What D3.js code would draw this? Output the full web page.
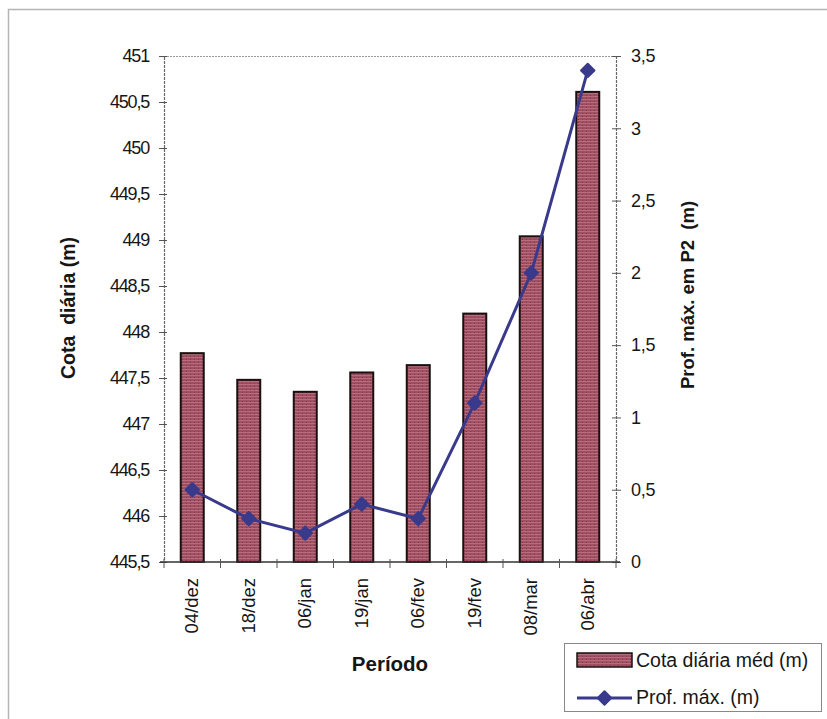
<!DOCTYPE html>
<html>
<head>
<meta charset="utf-8">
<script src="https://cdn.jsdelivr.net/npm/d3@7"></script>
<style>
  html, body { margin: 0; padding: 0; background: #fff; }
  svg { display: block; font-family: "Liberation Sans", Arial, sans-serif; }
</style>
</head>
<body>
<svg id="chart" width="827" height="719"></svg>
<script>
// Período de observação
const periods = ["04/dez", "18/dez", "06/jan", "19/jan", "06/fev", "19/fev", "08/mar", "06/abr"];
// Cota diária média (m)
const cotaDiaria = [447.77, 447.48, 447.35, 447.56, 447.64, 448.20, 449.04, 450.61];
// Profundidade máxima em P2 (m)
const profMax = [0.5, 0.3, 0.2, 0.4, 0.3, 1.1, 2.0, 3.4];
// Marcas dos eixos
const leftTicks = [445.5, 446, 446.5, 447, 447.5, 448, 448.5, 449, 449.5, 450, 450.5, 451];
const rightTicks = [0, 0.5, 1, 1.5, 2, 2.5, 3, 3.5];
const seriesNames = ["Cota diária méd (m)", "Prof. máx. (m)"];

const svg = d3.select("#chart");
const plot = { left: 164, right: 616, top: 56, bottom: 562 };

const fmt = v => String(v).replace(".", ",");
const barColor = "#9f5062";
const lineColor = "#3a3a8c";
const textColor = "#161616";

// Textura das barras
const defs = svg.append("defs");
const pat = defs.append("pattern")
  .attr("id", "barTex").attr("patternUnits", "userSpaceOnUse")
  .attr("width", 4).attr("height", 3);
pat.append("rect").attr("width", 4).attr("height", 3).attr("fill", barColor);
pat.append("rect").attr("y", 0).attr("width", 4).attr("height", 1).attr("fill", "#b86c7e");
pat.append("rect").attr("x", 2).attr("y", 2).attr("width", 1).attr("height", 1).attr("fill", "#853848");

// Moldura externa
svg.append("path")
  .attr("d", "M8.5,719 V9.5 H827")
  .attr("fill", "none").attr("stroke", "#b5b5b5").attr("stroke-width", 1.5);

const xCenter = d3.scalePoint().domain(periods).range([plot.left, plot.right]).padding(0.5);
const yL = d3.scaleLinear().domain([445.5, 451]).range([plot.bottom, plot.top]);
const yR = d3.scaleLinear().domain([0, 3.5]).range([plot.bottom, plot.top]);

// Borda superior da área de plotagem
svg.append("line")
  .attr("x1", plot.left).attr("x2", plot.right)
  .attr("y1", plot.top + 0.5).attr("y2", plot.top + 0.5)
  .attr("stroke", "#9a9a9a").attr("stroke-width", 1.2).attr("stroke-dasharray", "2,1");

// Barras
const bw = 23;
svg.append("g").selectAll("rect").data(cotaDiaria).join("rect")
  .attr("x", (d, i) => xCenter(periods[i]) - bw / 2)
  .attr("y", d => yL(d))
  .attr("width", bw)
  .attr("height", d => yL(445.5) - yL(d))
  .attr("fill", "url(#barTex)")
  .attr("stroke", "#1a1010").attr("stroke-width", 2);

// Eixo esquerdo
const axL = svg.append("g").attr("transform", `translate(${plot.left},0)`)
  .call(d3.axisLeft(yL).tickValues(leftTicks).tickFormat(fmt).tickSize(5).tickPadding(10));
axL.selectAll(".tick line").attr("x2", -5).attr("x1", 3).attr("stroke", "#555");
axL.select(".domain").attr("stroke", "#666").attr("stroke-width", 1.2).attr("stroke-dasharray", "3,1");
axL.selectAll("text").attr("font-size", 18).attr("fill", textColor).attr("letter-spacing", -1.2);

// Eixo direito
const axR = svg.append("g").attr("transform", `translate(${plot.right},0)`)
  .call(d3.axisRight(yR).tickValues(rightTicks).tickFormat(fmt).tickSize(5).tickPadding(10));
axR.selectAll(".tick line").attr("x1", -4).attr("x2", 5).attr("stroke", "#555");
axR.select(".domain").attr("stroke", "#666").attr("stroke-width", 1.2).attr("stroke-dasharray", "3,1");
axR.selectAll("text").attr("font-size", 18).attr("fill", textColor).attr("letter-spacing", -0.3);

// Eixo das categorias
const axB = svg.append("g").attr("transform", `translate(0,${plot.bottom})`);
axB.append("line").attr("x1", plot.left - 4).attr("x2", plot.right + 4)
  .attr("stroke", "#333").attr("stroke-width", 1.5);
const boundaries = d3.range(periods.length + 1).map(i => plot.left + i * (plot.right - plot.left) / periods.length);
axB.selectAll("line.tk").data(boundaries).join("line").attr("class", "tk")
  .attr("x1", d => d).attr("x2", d => d).attr("y1", -3).attr("y2", 6)
  .attr("stroke", "#555");
axB.selectAll("text").data(periods).join("text")
  .attr("transform", d => `translate(${xCenter(d) + 6},16) rotate(-90)`)
  .attr("text-anchor", "end")
  .attr("font-size", 18.5).attr("fill", textColor)
  .text(d => d);

// Marcador losango (quadrado girado 45°)
const squareDiamond = {
  draw(ctx, size) {
    const r = Math.sqrt(size / 2);
    ctx.moveTo(0, -r); ctx.lineTo(r, 0); ctx.lineTo(0, r); ctx.lineTo(-r, 0); ctx.closePath();
  }
};

// Linha de profundidade máxima
const lineGen = d3.line().x((d, i) => xCenter(periods[i])).y(d => yR(d));
svg.append("path").datum(profMax)
  .attr("d", lineGen).attr("fill", "none")
  .attr("stroke", lineColor).attr("stroke-width", 3);
const diamond = d3.symbol().type(squareDiamond).size(90);
svg.append("g").selectAll("path").data(profMax).join("path")
  .attr("transform", (d, i) => `translate(${xCenter(periods[i])},${yR(d)})`)
  .attr("d", diamond).attr("fill", lineColor)
  .attr("stroke", lineColor).attr("stroke-width", 2).attr("stroke-linejoin", "round");

// Títulos dos eixos
svg.append("text")
  .attr("transform", "translate(75,308) rotate(-90)")
  .attr("text-anchor", "middle").attr("font-weight", "bold").attr("font-size", 19.5)
  .attr("fill", textColor).attr("xml:space", "preserve")
  .text("Cota  diária (m)");
svg.append("text")
  .attr("transform", "translate(694,295) rotate(-90)")
  .attr("text-anchor", "middle").attr("font-weight", "bold").attr("font-size", 18.5)
  .attr("fill", textColor).attr("xml:space", "preserve")
  .text("Prof. máx. em P2  (m)");
svg.append("text")
  .attr("x", 390).attr("y", 671)
  .attr("text-anchor", "middle").attr("font-weight", "bold").attr("font-size", 20.5)
  .attr("fill", textColor)
  .text("Período");

// Legenda
const lg = svg.append("g");
lg.append("rect").attr("x", 564.5).attr("y", 643.5).attr("width", 257).attr("height", 68)
  .attr("fill", "#fff").attr("stroke", "#888").attr("stroke-width", 1);
lg.append("rect").attr("x", 577).attr("y", 653).attr("width", 55).attr("height", 14)
  .attr("fill", "url(#barTex)").attr("stroke", "#1a1010").attr("stroke-width", 1.5);
lg.append("line").attr("x1", 577).attr("x2", 632).attr("y1", 698).attr("y2", 698)
  .attr("stroke", lineColor).attr("stroke-width", 3);
lg.append("path").attr("transform", "translate(604.5,698)").attr("d", diamond)
  .attr("fill", lineColor).attr("stroke", lineColor).attr("stroke-width", 2).attr("stroke-linejoin", "round");
lg.selectAll("text.lt").data(seriesNames).join("text").attr("class", "lt")
  .attr("x", 636).attr("y", (d, i) => 667 + i * 37)
  .attr("font-size", 19.5).attr("fill", textColor)
  .text(d => d);
</script>
</body>
</html>
